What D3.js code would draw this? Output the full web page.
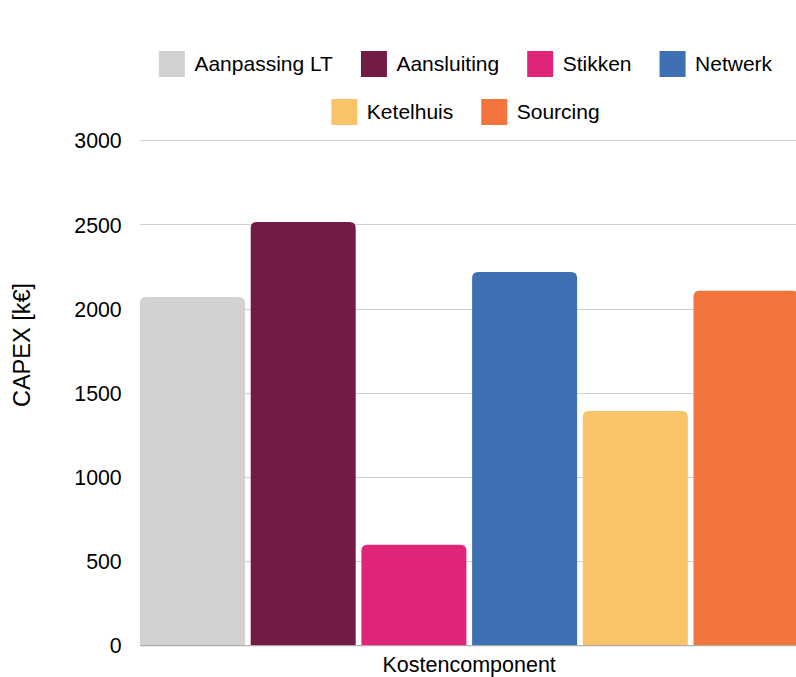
<!DOCTYPE html>
<html>
<head>
<meta charset="utf-8">
<script src="https://cdn.jsdelivr.net/npm/d3@7"></script>
<style>
  html, body { margin: 0; padding: 0; background: #fff; }
  svg { display: block; }
  text { font-family: "Liberation Sans", Arial, sans-serif; fill: #000; }
</style>
</head>
<body>
<svg id="chart" width="796" height="677"></svg>
<script>
const categories = ["Aanpassing LT", "Aansluiting", "Stikken", "Netwerk", "Ketelhuis", "Sourcing"];
const values = [2068, 2514, 597, 2217, 1391, 2106];
const colors = ["#d3d2d0", "#731b47", "#e02477", "#3f70b3", "#f9c368", "#f2753d"];
const yTicks = [0, 500, 1000, 1500, 2000, 2500, 3000];
const xTitle = "Kostencomponent";
const yTitle = "CAPEX [k€]";

const svg = d3.select("#chart");
const plot = { left: 140, right: 798.5, top: 140.2, bottom: 645.2 };

const x = d3.scaleBand().domain(categories).range([plot.left, plot.right])
  .paddingInner(0.0515).paddingOuter(0);
const y = d3.scaleLinear().domain([0, 3000]).range([plot.bottom, plot.top]);

// gridlines
svg.append("g").selectAll("line").data(yTicks.filter(t => t !== 0)).join("line")
  .attr("x1", plot.left).attr("x2", plot.right)
  .attr("y1", d => Math.round(y(d)) + 0.5).attr("y2", d => Math.round(y(d)) + 0.5)
  .attr("stroke", "#d0d0d0").attr("stroke-width", 1);

// y axis labels via d3 axis
const yAxis = d3.axisLeft(y).tickValues(yTicks).tickSize(0).tickPadding(0).tickFormat(d3.format("d"));
const yg = svg.append("g").attr("transform", `translate(${121.7},0)`).call(yAxis);
yg.select(".domain").remove();
yg.selectAll("text").attr("font-size", 21.3).attr("font-family", "Liberation Sans, Arial, sans-serif")
  .attr("fill", "#000").attr("dy", "0.36em");

// bars with rounded top corners
const r = 6;
function barPath(x0, w, yTop, yBot) {
  const rr = Math.min(r, (yBot - yTop), w / 2);
  return `M${x0},${yBot} L${x0},${yTop + rr} Q${x0},${yTop} ${x0 + rr},${yTop} L${x0 + w - rr},${yTop} Q${x0 + w},${yTop} ${x0 + w},${yTop + rr} L${x0 + w},${yBot} Z`;
}
svg.append("g").selectAll("path").data(categories).join("path")
  .attr("d", (c, i) => barPath(x(c), x.bandwidth(), y(values[i]), y(0)))
  .attr("fill", (c, i) => colors[i]);

// baseline
svg.append("line").attr("x1", plot.left).attr("x2", plot.right)
  .attr("y1", y(0) + 0.5).attr("y2", y(0) + 0.5).attr("stroke", "#9e9e9e").attr("stroke-width", 1);

// x title
svg.append("text").attr("x", 469.2).attr("y", 672.3).attr("text-anchor", "middle")
  .attr("font-size", 21.5).text(xTitle);

// y title
svg.append("text").attr("transform", `translate(30,345) rotate(-90)`).attr("text-anchor", "middle")
  .attr("font-size", 23.5).text(yTitle);

// legend
const leg = svg.append("g");
const sw = 26, gapText = 9.5, gapItem = 28, legendCenter = 465.5, maxRow = 656;
const items = categories.map((c, i) => {
  const t = leg.append("text").attr("font-size", 21).text(c);
  const w = t.node().getComputedTextLength();
  return { c, i, t, w, total: sw + gapText + w };
});
const rows = [];
let cur = [], curW = 0;
items.forEach(it => {
  const add = (cur.length ? gapItem : 0) + it.total;
  if (cur.length && curW + add > maxRow) { rows.push({ items: cur, w: curW }); cur = []; curW = 0; }
  curW += (cur.length ? gapItem : 0) + it.total;
  cur.push(it);
});
if (cur.length) rows.push({ items: cur, w: curW });
rows.forEach((row, ri) => {
  let xx = legendCenter - row.w / 2;
  const st = 51 + 48 * ri;
  row.items.forEach(it => {
    leg.append("rect").attr("x", xx).attr("y", st).attr("width", sw).attr("height", sw)
      .attr("fill", colors[it.i]);
    it.t.attr("x", xx + sw + gapText).attr("y", st + 20);
    xx += it.total + gapItem;
  });
});
</script>
</body>
</html>
